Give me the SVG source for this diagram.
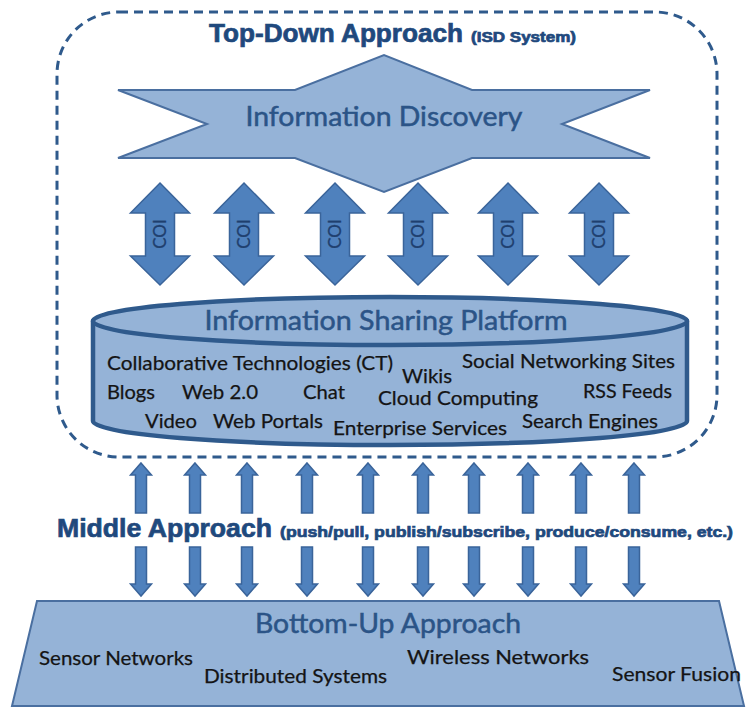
<svg xmlns="http://www.w3.org/2000/svg" width="756" height="709" viewBox="0 0 756 709">
<style>
.shape{fill:#95B3D7;stroke:#4A6FA0;stroke-width:2}
.arrow{fill:#4F81BD;stroke:#3A649A;stroke-width:1.5;stroke-linejoin:miter}
.body{font-family:Lato,"Liberation Sans",sans-serif;font-size:19px;fill:#141414;stroke:#141414;stroke-width:0.25}
.head{font-family:Lato,"Liberation Sans",sans-serif;font-size:27px;fill:#2B5487;stroke:#2B5487;stroke-width:0.5}
.big{font-family:"Liberation Sans",Arial,sans-serif;font-weight:bold;fill:#1F497D;stroke:#1F497D;stroke-width:0.7}
.coi{font-family:Lato,"Liberation Sans",sans-serif;font-size:17px;fill:#1F3F6E;stroke:#1F3F6E;stroke-width:0.3}
</style>
<defs>
<path id="dbl" d="M0,-51 L29.5,-21 L14.5,-21 L14.5,22 L29.5,22 L0,51 L-29.5,22 L-14.5,22 L-14.5,-21 L-29.5,-21 Z"/>
<path id="up" d="M0,0 L10.5,12 L5.5,12 L5.5,50 L-5.5,50 L-5.5,12 L-10.5,12 Z"/>
<path id="down" d="M-5.5,0 L5.5,0 L5.5,37 L10.5,37 L0,49 L-10.5,37 L-5.5,37 Z"/>
</defs>
<rect width="756" height="709" fill="#ffffff"/>

<g id="top-down">
<rect x="57" y="12" width="660" height="445" rx="62" ry="62" fill="none" stroke="#2F5A8C" stroke-width="3" stroke-dasharray="9 6"/>
<text class="big" x="209" y="42" font-size="25" textLength="254" lengthAdjust="spacingAndGlyphs">Top-Down Approach</text>
<text class="big" x="471" y="42" font-size="14" stroke-width="0.4" textLength="105" lengthAdjust="spacingAndGlyphs">(ISD System)</text>
</g>

<g id="information-discovery">
<polygon class="shape" points="118,90 295,90 384,55 472,90 650,90 562,124 650,158 472,158 384,192 295,158 118,158 207,124"/>
<text class="head" x="384" y="126" text-anchor="middle" textLength="277" lengthAdjust="spacingAndGlyphs" fill="#284B7A">Information Discovery</text>
</g>

<g id="connectors">
<g id="coi-arrows">
<use href="#dbl" class="arrow" transform="translate(160,234)"/>
<use href="#dbl" class="arrow" transform="translate(244,234)"/>
<use href="#dbl" class="arrow" transform="translate(335,234)"/>
<use href="#dbl" class="arrow" transform="translate(418,234)"/>
<use href="#dbl" class="arrow" transform="translate(508,234)"/>
<use href="#dbl" class="arrow" transform="translate(599,234)"/>
<text class="coi" transform="translate(160,234) rotate(-90)" x="0" y="6" text-anchor="middle">COI</text>
<text class="coi" transform="translate(244,234) rotate(-90)" x="0" y="6" text-anchor="middle">COI</text>
<text class="coi" transform="translate(335,234) rotate(-90)" x="0" y="6" text-anchor="middle">COI</text>
<text class="coi" transform="translate(418,234) rotate(-90)" x="0" y="6" text-anchor="middle">COI</text>
<text class="coi" transform="translate(508,234) rotate(-90)" x="0" y="6" text-anchor="middle">COI</text>
<text class="coi" transform="translate(599,234) rotate(-90)" x="0" y="6" text-anchor="middle">COI</text>
</g>
<g id="middle-arrows">
<use href="#up" class="arrow" transform="translate(141,463)"/>
<use href="#up" class="arrow" transform="translate(195,463)"/>
<use href="#up" class="arrow" transform="translate(247,463)"/>
<use href="#up" class="arrow" transform="translate(307,463)"/>
<use href="#up" class="arrow" transform="translate(368,463)"/>
<use href="#up" class="arrow" transform="translate(423,463)"/>
<use href="#up" class="arrow" transform="translate(474,463)"/>
<use href="#up" class="arrow" transform="translate(528,463)"/>
<use href="#up" class="arrow" transform="translate(581,463)"/>
<use href="#up" class="arrow" transform="translate(634,463)"/>
<use href="#down" class="arrow" transform="translate(141,547)"/>
<use href="#down" class="arrow" transform="translate(195,547)"/>
<use href="#down" class="arrow" transform="translate(247,547)"/>
<use href="#down" class="arrow" transform="translate(307,547)"/>
<use href="#down" class="arrow" transform="translate(368,547)"/>
<use href="#down" class="arrow" transform="translate(423,547)"/>
<use href="#down" class="arrow" transform="translate(474,547)"/>
<use href="#down" class="arrow" transform="translate(528,547)"/>
<use href="#down" class="arrow" transform="translate(581,547)"/>
<use href="#down" class="arrow" transform="translate(634,547)"/>
</g>
</g>

<g id="information-sharing-platform">
<path d="M93,321 L93,421 A297,24 0 0 0 687,421 L687,321 Z" fill="#95B3D7" stroke="#2F5A8C" stroke-width="4.5" stroke-linejoin="round"/>
<ellipse cx="390" cy="321" rx="297" ry="24" fill="#95B3D7" stroke="#2F5A8C" stroke-width="4.5"/>
<text class="head" x="386" y="330" text-anchor="middle" textLength="363" lengthAdjust="spacingAndGlyphs" font-size="26">Information Sharing Platform</text>
<text class="body" x="107" y="370" textLength="286" lengthAdjust="spacingAndGlyphs">Collaborative Technologies (CT)</text>
<text class="body" x="462" y="368" textLength="213" lengthAdjust="spacingAndGlyphs">Social Networking Sites</text>
<text class="body" x="402" y="383" textLength="50" lengthAdjust="spacingAndGlyphs">Wikis</text>
<text class="body" x="107" y="399" textLength="48" lengthAdjust="spacingAndGlyphs">Blogs</text>
<text class="body" x="182" y="399" textLength="76" lengthAdjust="spacingAndGlyphs">Web 2.0</text>
<text class="body" x="303" y="399" textLength="42" lengthAdjust="spacingAndGlyphs">Chat</text>
<text class="body" x="378" y="405" textLength="160" lengthAdjust="spacingAndGlyphs">Cloud Computing</text>
<text class="body" x="583" y="398" textLength="89" lengthAdjust="spacingAndGlyphs">RSS Feeds</text>
<text class="body" x="145" y="428" textLength="52" lengthAdjust="spacingAndGlyphs">Video</text>
<text class="body" x="213" y="428" textLength="110" lengthAdjust="spacingAndGlyphs">Web Portals</text>
<text class="body" x="333" y="435" textLength="174" lengthAdjust="spacingAndGlyphs">Enterprise Services</text>
<text class="body" x="522" y="428" textLength="136" lengthAdjust="spacingAndGlyphs">Search Engines</text>
</g>

<g id="middle-approach">
<text class="big" x="57" y="537" font-size="26" textLength="215" lengthAdjust="spacingAndGlyphs">Middle Approach</text>
<text class="big" x="280" y="537" font-size="15" stroke-width="0.4" textLength="453" lengthAdjust="spacingAndGlyphs">(push/pull, publish/subscribe, produce/consume, etc.)</text>
</g>

<g id="bottom-up">
<polygon class="shape" points="37,601 719,601 744,706 12,706"/>
<text class="head" x="255" y="633" textLength="266" lengthAdjust="spacingAndGlyphs">Bottom-Up Approach</text>
<text class="body" x="39" y="665" font-size="20" textLength="154" lengthAdjust="spacingAndGlyphs">Sensor Networks</text>
<text class="body" x="204" y="683" font-size="20" textLength="183" lengthAdjust="spacingAndGlyphs">Distributed Systems</text>
<text class="body" x="407" y="664" font-size="20" textLength="182" lengthAdjust="spacingAndGlyphs">Wireless Networks</text>
<text class="body" x="612" y="681" font-size="20" textLength="129" lengthAdjust="spacingAndGlyphs">Sensor Fusion</text>
</g>
</svg>
